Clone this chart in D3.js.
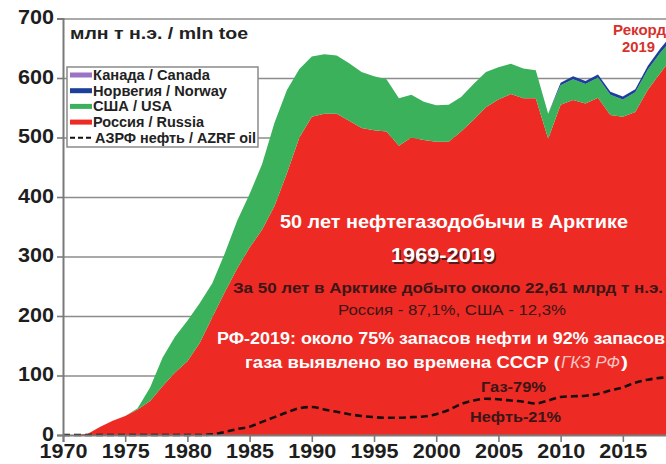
<!DOCTYPE html>
<html lang="ru">

<head>
    <title></title>
    <meta charset="UTF-8">
    <script src="https://cdn.jsdelivr.net/npm/d3@7"></script>
    <style>
        body {
            margin: 0;
            background: #fff;
        }

        svg {
            display: block;
            font-family: "Liberation Sans", Arial, sans-serif;
        }

        .tick text {
            font-family: "Liberation Sans", Arial, sans-serif;
        }
    </style>
</head>

<body>
    <script>
        var width = 666,
            height = 464;

        // годы
        var years = [1970, 1971, 1972, 1973, 1974, 1975, 1976, 1977, 1978, 1979,
            1980, 1981, 1982, 1983, 1984, 1985, 1986, 1987, 1988, 1989,
            1990, 1991, 1992, 1993, 1994, 1995, 1996, 1997, 1998, 1999,
            2000, 2001, 2002, 2003, 2004, 2005, 2006, 2007, 2008, 2009,
            2010, 2011, 2012, 2013, 2014, 2015, 2016, 2017, 2018, 2019];
        // Россия, млн т н.э.
        var russia = [0, 0, 2, 14, 24, 32, 43, 57, 82, 105,
            124, 155, 198, 240, 280, 315, 345, 385, 440, 500,
            535, 540, 540, 528, 516, 512, 510, 486, 500, 496,
            493, 493, 510, 530, 551, 564, 573, 566, 566, 498,
            555, 563, 557, 567, 538, 535, 543, 580, 608, 636];
        // США
        var usa = [0, 0, 0, 0, 0, 0, 2, 23, 48, 60,
            68, 67, 57, 65, 80, 90, 110, 140, 140, 115,
            101, 100, 98, 97, 94, 91, 88, 80, 72, 64,
            61, 62, 58, 60, 59, 54, 51, 50, 47, 42,
            33, 35, 33, 34, 34, 29, 33, 34, 34, 30];
        // Норвегия
        var norway = [0, 0, 0, 0, 0, 0, 0, 0, 0, 0,
            0, 0, 0, 0, 0, 0, 0, 0, 0, 0,
            0, 0, 0, 0, 0, 0, 0, 0, 0, 0,
            0, 0, 0, 0, 0, 0, 0, 0, 0, 0,
            4, 5, 5, 5, 5, 5, 5, 6, 7, 8];
        // Канада
        var canada = [0, 0, 0, 0, 0, 0, 0, 0, 0, 0,
            0, 0, 0, 0, 0, 0, 0, 0, 0, 0,
            0, 0, 0, 0, 0, 0, 0, 0, 0, 0,
            0, 0, 0, 0, 0, 0, 0, 0, 0, 0,
            0, 0, 0, 0, 0, 0, 0, 0, 0, 0];
        // АЗРФ нефть (пунктир)
        var azrfOil = [0, 0, 0, 0, 0, 0, 0, 0, 0, 0,
            0, 0, 1, 5, 10, 14, 22, 30, 38, 45,
            47, 43, 39, 35, 32, 30, 29, 29, 30, 31,
            35, 42, 52, 58, 61, 60, 58, 56, 53, 58,
            64, 65, 66, 69, 75, 80, 88, 93, 96, 98];

        var yTicks = [0, 100, 200, 300, 400, 500, 600, 700];
        var xTicks = [1970, 1975, 1980, 1985, 1990, 1995, 2000, 2005, 2010, 2015];

        var keys = ['russia', 'usa', 'norway', 'canada'];
        var colors = {
            russia: '#ed2a24',
            usa: '#3bb15b',
            norway: '#1c3f9a',
            canada: '#9b72c4'
        };
        var legendItems = [
            { key: 'canada', label: 'Канада / Canada', w: 117 },
            { key: 'norway', label: 'Норвегия / Norway', w: 134 },
            { key: 'usa', label: 'США / USA', w: 79 },
            { key: 'russia', label: 'Россия / Russia', w: 111 },
            { key: 'oil', label: 'АЗРФ нефть / AZRF oil', w: 161 }
        ];

        var rows = years.map(function(y, i) {
            return { year: y, russia: russia[i], usa: usa[i], norway: norway[i], canada: canada[i], oil: azrfOil[i] };
        });

        var svg = d3.select('body').append('svg')
            .attr('width', width)
            .attr('height', height);

        var x = d3.scaleLinear().domain([1970, 2019]).range([63, 672.6]);
        var y = d3.scaleLinear().domain([0, 700]).range([435, 18.5]);

        //сетка
        svg.append('g')
            .attr('class', 'grid')
            .attr('transform', 'translate(63,0)')
            .call(d3.axisLeft(y).tickValues(yTicks.slice(1)).tickSize(-(width - 63)).tickFormat(''))
            .call(function(g) {
                g.select('.domain').remove();
                g.selectAll('line').attr('stroke', '#8c8c8c').attr('stroke-width', 1.6);
            });

        //области
        var series = d3.stack().keys(keys)(rows);
        var area = d3.area()
            .x(function(d) { return x(d.data.year); })
            .y0(function(d) { return y(d[0]); })
            .y1(function(d) { return y(d[1]); });

        svg.append('g').selectAll('path')
            .data(series)
            .enter()
            .append('path')
            .attr('d', area)
            .attr('fill', function(d) { return colors[d.key]; });

        //пунктир нефть
        var line = d3.line()
            .x(function(d) { return x(d.year); })
            .y(function(d) { return y(d.oil); })
            .curve(d3.curveMonotoneX);

        svg.append('path')
            .datum(rows)
            .attr('d', line)
            .attr('fill', 'none')
            .attr('stroke', '#1a0f0f')
            .attr('stroke-width', 2.6)
            .attr('stroke-dasharray', '7,4');

        //оси
        svg.append('g')
            .attr('transform', 'translate(63,0)')
            .call(d3.axisLeft(y).tickValues(yTicks).tickSize(6).tickPadding(3))
            .call(function(g) {
                g.select('.domain').attr('stroke', '#7a7a7a').attr('stroke-width', 2);
                g.selectAll('line').attr('stroke', '#7a7a7a').attr('stroke-width', 1.6);
                g.selectAll('text').attr('font-size', 20).attr('font-weight', 'bold').attr('fill', '#1e1e1e')
                    .attr('dy', '0.25em')
                    .attr('textLength', function(d) { return String(d).length * 12; })
                    .attr('lengthAdjust', 'spacingAndGlyphs');
            });

        svg.append('g')
            .attr('transform', 'translate(0,435)')
            .call(d3.axisBottom(x).tickValues(xTicks).tickFormat(d3.format('d')).tickSize(7).tickPadding(2))
            .call(function(g) {
                g.select('.domain').attr('stroke', '#7a7a7a').attr('stroke-width', 2);
                g.selectAll('line').attr('stroke', '#7a7a7a').attr('stroke-width', 1.6);
                g.selectAll('text').attr('font-size', 20).attr('font-weight', 'bold').attr('fill', '#1e1e1e')
                    .attr('dy', '0.68em')
                    .attr('textLength', 48)
                    .attr('lengthAdjust', 'spacingAndGlyphs');
            });

        //подписи
        function label(txt, px, py, size, opts) {
            opts = opts || {};
            var t = svg.append('text')
                .attr('x', px)
                .attr('y', py + size * 0.35)
                .attr('font-size', size)
                .attr('font-weight', opts.weight || 'bold')
                .attr('font-style', opts.style || 'normal')
                .attr('fill', opts.fill || '#fff')
                .attr('text-anchor', opts.anchor || 'start')
                .text(txt);
            if (opts.len) {
                t.attr('textLength', opts.len).attr('lengthAdjust', 'spacingAndGlyphs');
            }
            return t;
        }

        var dark = '#3a1616';
        label('млн т н.э. / mln toe', 70, 33, 16.5, { fill: '#222', len: 178 });
        label('Рекорд', 613, 30, 15, { fill: '#d8312b', len: 53 });
        label('2019', 622, 47, 15, { fill: '#d8312b', len: 33 });

        label('50 лет нефтегазодобычи в Арктике', 280, 222, 18.5, { len: 348 });
        label('1969-2019', 392.5, 256.5, 21, { fill: '#5a1a1a', len: 104 });
        label('1969-2019', 391, 255, 21, { len: 104 });
        label('За 50 лет в Арктике добыто около 22,61 млрд т н.э.', 233, 288, 15, { fill: dark, len: 430 });
        label('Россия - 87,1%, США - 12,3%', 338, 310, 15.5, { fill: dark, weight: 'normal', len: 228 });
        label('РФ-2019: около 75% запасов нефти и 92% запасов', 217, 338, 16, { len: 448 });
        label('газа выявлено во времена СССР (', 245, 362, 16, { len: 315 });
        label('ГКЗ РФ', 561, 362, 16, { weight: 'normal', style: 'italic', fill: '#f7c4c0', len: 59 });
        label(')', 621, 362, 16, { len: 7 });
        label('Газ-79%', 481, 387, 15, { fill: dark, len: 65 });
        label('Нефть-21%', 470, 417, 15, { fill: dark, len: 91 });

        //легенда
        var lg = svg.append('g').attr('class', 'legend');
        lg.append('rect')
            .attr('x', 67).attr('y', 67)
            .attr('width', 191).attr('height', 80)
            .attr('fill', '#fff')
            .attr('stroke', '#8a8a8a')
            .attr('stroke-width', 1.5);

        var li = lg.selectAll('g.item')
            .data(legendItems)
            .enter()
            .append('g')
            .attr('class', 'item')
            .attr('transform', function(d, i) { return 'translate(70,' + (75 + i * 15.7) + ')'; });

        li.each(function(d) {
            var g = d3.select(this);
            if (d.key === 'oil') {
                g.append('line')
                    .attr('x1', 0).attr('x2', 22)
                    .attr('y1', 0).attr('y2', 0)
                    .attr('stroke', '#111')
                    .attr('stroke-width', 2)
                    .attr('stroke-dasharray', '5,3');
            } else {
                g.append('rect')
                    .attr('x', 0).attr('y', -2.5)
                    .attr('width', 22).attr('height', 5)
                    .attr('fill', colors[d.key]);
            }
            g.append('text')
                .attr('x', d.key === 'oil' ? 25 : 23)
                .attr('y', 4.8)
                .attr('font-size', 14)
                .attr('font-weight', 'bold')
                .attr('fill', '#222')
                .attr('textLength', d.w)
                .attr('lengthAdjust', 'spacingAndGlyphs')
                .text(d.label);
        });
    </script>
</body>

</html>
